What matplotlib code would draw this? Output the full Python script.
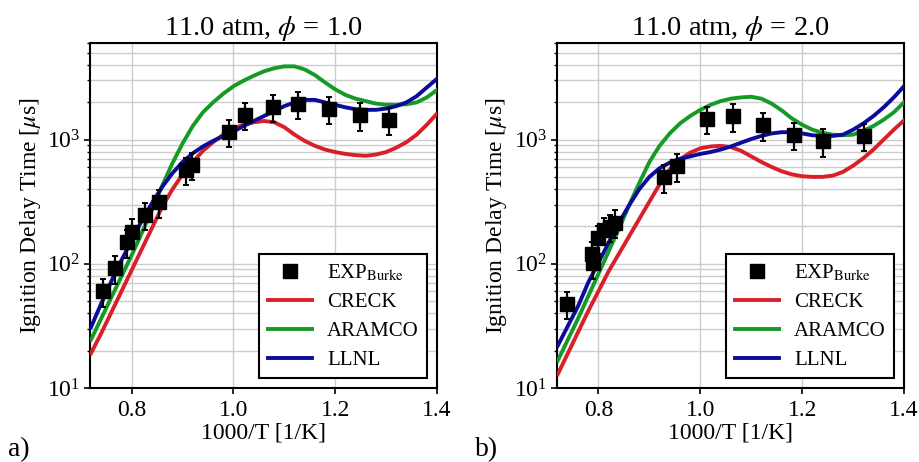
import numpy as np
import matplotlib
matplotlib.use("Agg")
import matplotlib.pyplot as plt
from matplotlib.ticker import LogLocator, NullFormatter, FixedLocator
from matplotlib.lines import Line2D

plt.rcParams['font.family'] = ['Liberation Serif', 'DejaVu Serif']
plt.rcParams['mathtext.fontset'] = 'stix'

# ---------------- data ----------------
x_model = [0.72, 0.74, 0.76, 0.78, 0.80, 0.82, 0.84, 0.86, 0.88, 0.90,
           0.92, 0.94, 0.96, 0.98, 1.00, 1.02, 1.04, 1.06, 1.08, 1.10,
           1.12, 1.14, 1.16, 1.18, 1.20, 1.22, 1.24, 1.26, 1.28, 1.30,
           1.32, 1.34, 1.36, 1.38, 1.40]

# panel a: 11 atm, phi = 1.0  (log10 of ignition delay in microseconds)
creck_a_log = [1.28, 1.44, 1.61, 1.78, 1.95, 2.12, 2.29, 2.46, 2.60, 2.72,
               2.82, 2.91, 2.98, 3.04, 3.09, 3.12, 3.14, 3.15, 3.14, 3.10,
               3.04, 2.99, 2.95, 2.92, 2.90, 2.885, 2.875, 2.87, 2.88, 2.90,
               2.935, 2.98, 3.04, 3.12, 3.21]
aramco_a_log = [1.39, 1.56, 1.73, 1.90, 2.07, 2.25, 2.44, 2.63, 2.81, 2.97,
                3.11, 3.22, 3.30, 3.37, 3.43, 3.475, 3.515, 3.55, 3.575, 3.59,
                3.59, 3.565, 3.52, 3.46, 3.405, 3.36, 3.33, 3.31, 3.29, 3.28,
                3.28, 3.285, 3.30, 3.34, 3.40]
llnl_a_log = [1.49, 1.68, 1.86, 2.03, 2.19, 2.35, 2.49, 2.62, 2.73, 2.82,
              2.89, 2.945, 2.99, 3.03, 3.065, 3.11, 3.15, 3.19, 3.23, 3.27,
              3.30, 3.32, 3.32, 3.30, 3.28, 3.26, 3.245, 3.24, 3.24, 3.25,
              3.27, 3.30, 3.35, 3.42, 3.49]
exp_a_x = [0.743, 0.768, 0.790, 0.800, 0.826, 0.854, 0.906, 0.918, 0.991,
           1.023, 1.077, 1.126, 1.188, 1.249, 1.306]
exp_a_y = [60, 92, 149, 182, 248, 312, 573, 628, 1153,
           1592, 1837, 1942, 1778, 1570, 1449]

# panel b: 11 atm, phi = 2.0
creck_b_log = [1.11, 1.28, 1.45, 1.62, 1.78, 1.94, 2.08, 2.22, 2.36, 2.50,
               2.64, 2.76, 2.84, 2.895, 2.93, 2.945, 2.95, 2.94, 2.91, 2.865,
               2.82, 2.78, 2.745, 2.72, 2.705, 2.70, 2.70, 2.71, 2.74, 2.79,
               2.85, 2.92, 3.00, 3.08, 3.155]
aramco_b_log = [1.22, 1.39, 1.56, 1.74, 1.92, 2.10, 2.28, 2.47, 2.65, 2.82,
                2.95, 3.05, 3.13, 3.19, 3.24, 3.28, 3.31, 3.33, 3.34, 3.345,
                3.33, 3.29, 3.235, 3.17, 3.12, 3.08, 3.055, 3.04, 3.035, 3.04,
                3.07, 3.11, 3.16, 3.22, 3.30]
llnl_b_log = [1.34, 1.50, 1.66, 1.85, 2.01, 2.17, 2.33, 2.47, 2.60, 2.70,
              2.77, 2.815, 2.845, 2.865, 2.885, 2.90, 2.92, 2.945, 2.975, 3.005,
              3.03, 3.05, 3.06, 3.06, 3.05, 3.035, 3.03, 3.03, 3.04, 3.08,
              3.13, 3.19, 3.26, 3.34, 3.43]
exp_b_x = [0.738, 0.787, 0.789, 0.800, 0.810, 0.823, 0.833, 0.929, 0.954,
           1.014, 1.064, 1.124, 1.184, 1.240, 1.321]
exp_b_y = [47.5, 120, 101, 161, 188, 199, 215, 497, 610,
           1476, 1541, 1303, 1097, 968, 1075]

exp_rel_err = 0.25
titles = ["11.0 atm, $\\phi$ = 1.0", "11.0 atm, $\\phi$ = 2.0"]
panel_tags = ["a)", "b)"]
labels = ["EXP$_{\\rm Burke}$", "CRECK", "ARAMCO", "LLNL"]
colors = {"CRECK": "#d7202a", "ARAMCO": "#169a26", "LLNL": "#0b0b9c"}

# ---------------- plot ----------------
fig = plt.figure(figsize=(9.19, 4.62), dpi=100)
positions = [[90/919, 74/462, 347/919, 345/462],
             [556.7/919, 74/462, 347.3/919, 345/462]]

panels = [
    (exp_a_x, exp_a_y, creck_a_log, aramco_a_log, llnl_a_log),
    (exp_b_x, exp_b_y, creck_b_log, aramco_b_log, llnl_b_log),
]

for i, (ex, ey, cr, ar, ll) in enumerate(panels):
    ax = fig.add_axes(positions[i])
    ax.set_yscale('log')
    ey = np.array(ey)
    ax.errorbar(ex, ey, yerr=exp_rel_err * ey, fmt='s', color='black',
                ms=9.5, elinewidth=1.6, capsize=2.5, capthick=1.4, zorder=5)
    xm = np.array(x_model)
    lc, = ax.plot(xm, 10 ** np.array(cr), color=colors["CRECK"], lw=2.8, label=labels[1], zorder=3)
    la, = ax.plot(xm, 10 ** np.array(ar), color=colors["ARAMCO"], lw=2.8, label=labels[2], zorder=3)
    lb, = ax.plot(xm, 10 ** np.array(ll), color=colors["LLNL"], lw=2.8, label=labels[3], zorder=4)
    h_exp = Line2D([], [], ls='none', marker='s', color='black', ms=10)

    ax.set_xlim(0.718, 1.4)
    ax.set_ylim(10, 6000)
    ax.xaxis.set_major_locator(FixedLocator([0.8, 1.0, 1.2, 1.4]))
    ax.set_xticklabels(["0.8", "1.0", "1.2", "1.4"])
    ax.yaxis.set_major_locator(LogLocator(base=10, numticks=10))
    ax.yaxis.set_minor_locator(LogLocator(base=10, subs=np.arange(2, 10), numticks=10))
    ax.yaxis.set_minor_formatter(NullFormatter())
    ax.grid(True, which='major', color='#cccccc', lw=1.0)
    ax.grid(True, which='minor', axis='y', color='#cccccc', lw=1.0)
    ax.set_axisbelow(True)
    ax.tick_params(axis='both', which='major', direction='out', length=4,
                   width=1.2, labelsize=17, pad=3)
    ax.tick_params(axis='x', which='major', pad=5)
    ax.tick_params(axis='y', which='minor', direction='out', length=2.5, width=1.0)
    for s in ax.spines.values():
        s.set_linewidth(1.5)
        s.set_color('black')
    ax.set_title(titles[i], fontsize=20.5, pad=6)
    ax.set_xlabel("1000/T [1/K]", fontsize=17, labelpad=1)
    ax.set_ylabel("Ignition Delay Time [$\\mu$s]", fontsize=17, labelpad=3)
    leg = ax.legend(handles=[h_exp, lc, la, lb], labels=labels, loc='lower right',
                    bbox_to_anchor=(0.972, 0.028), fontsize=15, frameon=True,
                    fancybox=False, framealpha=1, edgecolor='black',
                    handlelength=2.1, handletextpad=0.75, borderpad=0.4,
                    labelspacing=0.45, borderaxespad=0)
    leg.get_frame().set_linewidth(1.5)
    fig.text(positions[i][0] - 82/919, 0.0, panel_tags[i], fontsize=20,
             ha='left', va='bottom')

fig.savefig("out.png", dpi=100)
